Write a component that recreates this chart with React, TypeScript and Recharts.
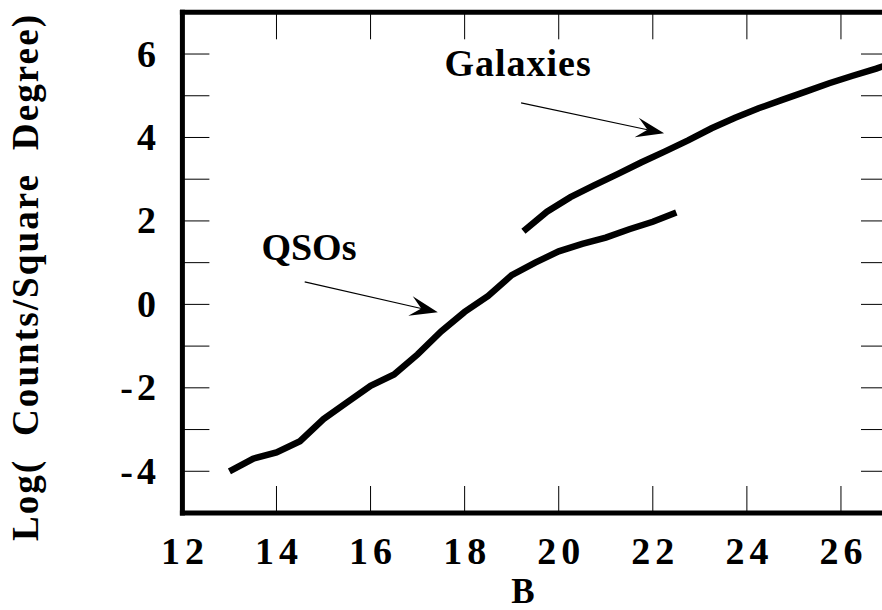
import React from 'react';
import {
  LineChart,
  Line,
  XAxis,
  YAxis,
  ReferenceLine,
  ReferenceDot,
} from 'recharts';

// ---- data ----
const xTicks = [12, 14, 16, 18, 20, 22, 24, 26];
const yLabelTicks = [-4, -2, 0, 2, 4, 6];
const yMinorTicks = [-4, -3, -2, -1, 0, 1, 2, 3, 4, 5, 6];

const qsoB = [13, 13.5, 14, 14.5, 15, 15.5, 16, 16.5, 17, 17.5, 18, 18.5, 19, 19.5, 20, 20.5, 21, 21.5, 22, 22.5];
const qsoLogN = [-4.0, -3.7, -3.55, -3.28, -2.75, -2.35, -1.95, -1.68, -1.2, -0.65, -0.18, 0.2, 0.7, 1.0, 1.27, 1.45, 1.6, 1.8, 1.98, 2.2];

const galB = [19.25, 19.75, 20.25, 20.75, 21.25, 21.75, 22.25, 22.75, 23.25, 23.75, 24.25, 24.75, 25.25, 25.75, 26.25, 26.75, 27];
const galLogN = [1.75, 2.22, 2.57, 2.85, 3.12, 3.4, 3.66, 3.93, 4.22, 4.47, 4.7, 4.9, 5.1, 5.3, 5.48, 5.65, 5.75];

const xDomain = [12, 27];
const yDomain = [-5, 7];

const annotationLabels = ['Galaxies', 'QSOs'];
const annotationAnchors = [
  { x: 17.57, y: 5.48 },
  { x: 13.68, y: 1.06 },
];
const arrowSegments = [
  [{ x: 19.2, y: 4.83 }, { x: 22.24, y: 4.1 }],
  [{ x: 14.6, y: 0.54 }, { x: 17.43, y: -0.19 }],
];

const qsoData = qsoB.map((b, i) => ({ b, n: qsoLogN[i] }));
const galData = galB.map((b, i) => ({ b, n: galLogN[i] }));

const FONT = 'Liberation Serif';

const T = (props: any) => {
  const { size, spacing = 0, children, ...rest } = props;
  return (
    <text
      {...rest}
      fill="#000"
      fontFamily={FONT}
      fontWeight="bold"
      fontSize={size}
      letterSpacing={spacing}
      style={{ fontFamily: FONT, fontWeight: 700, fontSize: size, letterSpacing: spacing }}
    >
      {children}
    </text>
  );
};

const ArrowShape = (props: any) => {
  const { x1, y1, x2, y2 } = props;
  const dx = x2 - x1;
  const dy = y2 - y1;
  const len = Math.sqrt(dx * dx + dy * dy) || 1;
  const ux = dx / len;
  const uy = dy / len;
  const px = -uy;
  const py = ux;
  const headLen = 28;
  const halfW = 10;
  const notch = 17;
  const bx = x2 - headLen * ux;
  const by = y2 - headLen * uy;
  const nx = x2 - notch * ux;
  const ny = y2 - notch * uy;
  const pts = [
    [x2, y2],
    [bx + halfW * px, by + halfW * py],
    [nx, ny],
    [bx - halfW * px, by - halfW * py],
  ]
    .map((p) => p.join(','))
    .join(' ');
  return (
    <g>
      <line x1={x1} y1={y1} x2={nx} y2={ny} stroke="#000" strokeWidth={1.2} />
      <polygon points={pts} fill="#000" stroke="none" />
    </g>
  );
};

const XTick = (props: any) => {
  const { x, y, payload } = props;
  return (
    <T x={x + 2.5} y={y + 51} textAnchor="middle" size={38} spacing={5}>
      {String(payload.value)}
    </T>
  );
};

const YTick = (props: any) => {
  const { y, payload } = props;
  const neg = payload.value < 0;
  return (
    <T x={156 + (neg ? 4 : 0)} y={y + 12.5} textAnchor="end" size={38} spacing={neg ? 4 : 0}>
      {String(payload.value)}
    </T>
  );
};

const NoTick = () => <g />;

const frameLine = { stroke: '#000', strokeWidth: 5, strokeLinecap: 'square' as const };
const thinTick = { stroke: '#000', strokeWidth: 1 };

export default function App() {
  return (
    <div
      style={{
        position: 'absolute',
        left: 0,
        top: 0,
        width: 882,
        height: 610,
        overflow: 'hidden',
        background: '#fff',
      }}
    >
      <LineChart width={940} height={610} margin={{ top: 12.3, right: 52, bottom: 0, left: 0 }}>
        <XAxis
          xAxisId="main"
          type="number"
          dataKey="b"
          domain={xDomain}
          ticks={xTicks}
          orientation="bottom"
          height={97}
          axisLine={frameLine}
          tickLine={false}
          tickSize={0}
          tickMargin={0}
          tick={XTick}
          allowDataOverflow
          label={{
            content: () => (
              <T x={523} y={603} textAnchor="middle" size={35}>
                B
              </T>
            ),
          }}
        />
        <XAxis
          xAxisId="bm"
          type="number"
          dataKey="b"
          domain={xDomain}
          ticks={xTicks}
          orientation="bottom"
          mirror
          axisLine={false}
          tickLine={thinTick}
          tickSize={27}
          tick={NoTick}
          allowDataOverflow
        />
        <XAxis
          xAxisId="top"
          type="number"
          dataKey="b"
          domain={xDomain}
          ticks={xTicks}
          orientation="top"
          mirror
          axisLine={frameLine}
          tickLine={thinTick}
          tickSize={27}
          tick={NoTick}
          allowDataOverflow
        />
        <YAxis
          yAxisId="main"
          type="number"
          domain={yDomain}
          ticks={yLabelTicks}
          orientation="left"
          width={182.4}
          axisLine={frameLine}
          tickLine={false}
          tickSize={0}
          tickMargin={0}
          tick={YTick}
          allowDataOverflow
          label={{
            content: () => (
              <T
                x={38}
                y={277}
                transform="rotate(-90, 38, 277)"
                textAnchor="middle"
                size={37}
                spacing={2.1}
              >
                {'Log(\u00A0 Counts/Square\u00A0 Degree)'}
              </T>
            ),
          }}
        />
        <YAxis
          yAxisId="lm"
          type="number"
          domain={yDomain}
          ticks={yMinorTicks}
          orientation="left"
          mirror
          axisLine={false}
          tickLine={thinTick}
          tickSize={27}
          tick={NoTick}
          allowDataOverflow
        />
        <YAxis
          yAxisId="right"
          type="number"
          domain={yDomain}
          ticks={yMinorTicks}
          orientation="right"
          mirror
          axisLine={frameLine}
          tickLine={thinTick}
          tickSize={27}
          tick={NoTick}
          allowDataOverflow
        />
        <Line
          xAxisId="main"
          yAxisId="main"
          data={qsoData}
          dataKey="n"
          type="linear"
          stroke="#000"
          strokeWidth={6.5}
          strokeLinejoin="miter"
          dot={false}
          activeDot={false}
          isAnimationActive={false}
        />
        <Line
          xAxisId="main"
          yAxisId="main"
          data={galData}
          dataKey="n"
          type="linear"
          stroke="#000"
          strokeWidth={6.5}
          strokeLinejoin="miter"
          dot={false}
          activeDot={false}
          isAnimationActive={false}
        />
        {arrowSegments.map((seg, i) => (
          <ReferenceLine
            key={'arrow' + i}
            xAxisId="main"
            yAxisId="main"
            segment={seg}
            shape={ArrowShape}
          />
        ))}
        {annotationLabels.map((lbl, i) => (
          <ReferenceDot
            key={'lbl' + i}
            xAxisId="main"
            yAxisId="main"
            x={annotationAnchors[i].x}
            y={annotationAnchors[i].y}
            shape={(p: any) => (
              <T x={p.cx} y={p.cy} textAnchor="start" size={38} spacing={i === 0 ? 1 : 0}>
                {lbl}
              </T>
            )}
          />
        ))}
      </LineChart>
    </div>
  );
}
